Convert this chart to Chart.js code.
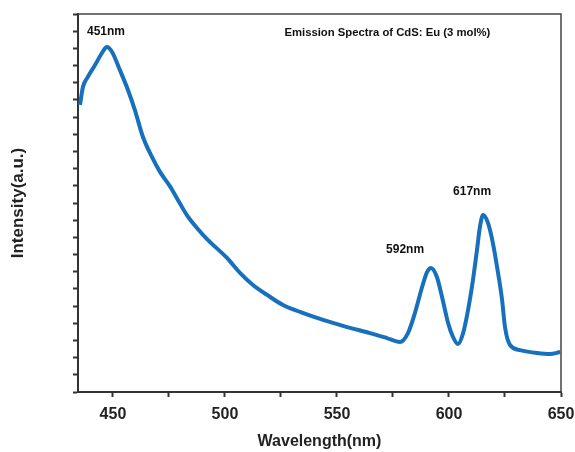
<!DOCTYPE html>
<html lang="en">
<head>
  <meta charset="UTF-8" />
  <title>Emission Spectra of CdS: Eu</title>
  <script src="https://cdn.jsdelivr.net/npm/chart.js"></script>
  <style>
    html, body {
      margin: 0;
      padding: 0;
      background: #fff;
    }
    #wrap {
      width: 575px;
      height: 452px;
      position: relative;
    }
  </style>
</head>
<body>
  <div id="wrap"><canvas id="spectrumChart"></canvas></div>

  <script>
    // wavelength (nm) and intensity (a.u.)
    const wavelengths = [
      435.3, 436.6, 438.8, 442.0, 445.1, 447.3, 449.6, 453.1, 456.7, 459.8,
      463.4, 467.4, 471.0, 475.4, 479.0, 483.0, 487.5, 492.0, 500.9,
      506.7, 512.5, 518.8, 525.9, 533.5, 541.1, 548.2, 554.5, 564.7, 572.3,
      578.1, 581.7, 584.8, 588.0, 590.2, 592.0, 594.6, 596.9, 599.6, 601.8,
      604.0, 606.3, 608.5, 610.7, 612.5, 613.8, 615.2, 617.4, 619.6, 621.9,
      623.7, 625.0, 627.2, 631.7, 639.3, 645.1, 649.6
    ];
    const intensities = [
      16.71, 17.75, 18.34, 19.03, 19.73, 20.08, 19.79, 18.74, 17.58, 16.41,
      14.84, 13.68, 12.81, 11.98, 11.18, 10.30, 9.55, 8.90, 7.80,
      6.93, 6.23, 5.65, 5.06, 4.66, 4.31, 4.02, 3.78, 3.43, 3.14,
      2.91, 3.43, 4.60, 6.11, 6.98, 7.22, 6.69, 5.53, 4.02, 3.20,
      2.79, 3.43, 4.77, 6.52, 8.27, 9.60, 10.30, 9.84, 8.67, 6.93,
      5.36, 3.78, 2.74, 2.44, 2.27, 2.21, 2.33
    ];

    const xTickValues = [450, 475, 500, 525, 550, 575, 600, 625, 650];
    const xTickLabels = ['450', '', '500', '', '550', '', '600', '', '650'];
    // unlabelled intensity ticks
    const yTickValues = [0, 1, 2, 3, 4, 5, 6, 7, 8, 9, 10, 11, 12, 13, 14, 15, 16, 17, 18, 19, 20, 21, 22];

    // peak labels, placed in data units (nm, a.u.)
    const noteTexts = ['451nm', '592nm', '617nm', 'Emission Spectra of CdS: Eu (3 mol%)'];
    const noteX = [446.9, 580.4, 610.3, 572.5];
    const noteY = [20.95, 8.27, 11.64, 20.9];

    const points = wavelengths.map((w, i) => ({ x: w, y: intensities[i] }));

    const frameAndNotes = {
      id: 'frameAndNotes',
      afterDatasetsDraw(chart) {
        const { ctx, chartArea, scales } = chart;
        ctx.save();
        ctx.strokeStyle = '#444';
        ctx.lineWidth = 1.5;
        ctx.beginPath();
        ctx.moveTo(chartArea.left, chartArea.top);
        ctx.lineTo(chartArea.right, chartArea.top);
        ctx.lineTo(chartArea.right, chartArea.bottom);
        ctx.stroke();

        ctx.fillStyle = '#111';
        ctx.textAlign = 'center';
        ctx.textBaseline = 'middle';
        noteTexts.forEach((t, i) => {
          ctx.font = i === 3 ? 'bold 11.3px "Liberation Sans", Arial, sans-serif'
                             : 'bold 12px "Liberation Sans", Arial, sans-serif';
          ctx.fillText(t, scales.x.getPixelForValue(noteX[i]), scales.y.getPixelForValue(noteY[i]));
        });
        ctx.restore();
      }
    };

    new Chart(document.getElementById('spectrumChart'), {
      type: 'line',
      data: {
        datasets: [{
          data: points,
          borderColor: '#1670bd',
          borderWidth: 4,
          pointRadius: 0,
          cubicInterpolationMode: 'monotone',
          fill: false
        }]
      },
      options: {
        responsive: true,
        maintainAspectRatio: false,
        animation: false,
        layout: { padding: { top: 14, right: 14, left: 0, bottom: 0 } },
        plugins: {
          legend: { display: false },
          tooltip: { enabled: false }
        },
        scales: {
          x: {
            type: 'linear',
            min: 434.4,
            max: 650,
            afterBuildTicks: scale => {
              scale.ticks = xTickValues.map(v => ({ value: v }));
            },
            afterFit: scale => {
              scale.height = 60;
              scale.paddingLeft = 0;
              scale.paddingRight = 0;
            },
            ticks: {
              autoSkip: false,
              maxRotation: 0,
              padding: 8,
              color: '#222',
              font: { family: '"Liberation Sans", Arial, sans-serif', size: 16, weight: 'bold' },
              callback: value => xTickLabels[xTickValues.indexOf(value)]
            },
            grid: {
              drawOnChartArea: false,
              drawTicks: true,
              tickLength: 5,
              tickWidth: 2,
              color: '#333'
            },
            border: { display: true, color: '#333', width: 2 },
            title: {
              display: true,
              text: 'Wavelength(nm)',
              color: '#222',
              padding: { top: 0, bottom: 1 },
              font: { family: '"Liberation Sans", Arial, sans-serif', size: 16, weight: 'bold' }
            }
          },
          y: {
            min: 0,
            max: 22,
            afterBuildTicks: scale => {
              scale.ticks = yTickValues.map(v => ({ value: v }));
            },
            afterFit: scale => {
              scale.width = 78;
              scale.paddingTop = 0;
              scale.paddingBottom = 0;
            },
            ticks: {
              autoSkip: false,
              callback: () => ''
            },
            grid: {
              drawOnChartArea: false,
              drawTicks: true,
              tickLength: 5,
              tickWidth: 2,
              color: '#333'
            },
            border: { display: true, color: '#333', width: 2 },
            title: {
              display: true,
              text: 'Intensity(a.u.)',
              color: '#222',
              padding: { top: 8, bottom: 0 },
              font: { family: '"Liberation Sans", Arial, sans-serif', size: 17, weight: 'bold' }
            }
          }
        }
      },
      plugins: [frameAndNotes]
    });
  </script>
</body>
</html>
